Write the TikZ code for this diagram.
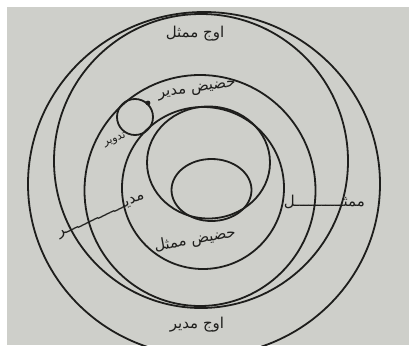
\documentclass[tikz,border=0pt]{standalone}
\usepackage{fontspec}
\newfontfamily\arabicfont[Script=Arabic]{DejaVu Sans}
\TeXXeTstate=1
\definecolor{ink}{RGB}{30,30,28}
\definecolor{paper}{RGB}{206,207,202}

\begin{document}
\begin{tikzpicture}[
  x=1pt, y=-1pt,
  font=\arabicfont\fontsize{15}{17}\selectfont,
  orb/.style={draw=ink, line width=1.8pt},
  lbl/.style={inner sep=1pt, text=ink}
]
% page and paper
\useasboundingbox (0,0) rectangle (409,345);
\fill[paper] (7,7) rectangle (409,345);

% centres of the orbs
\coordinate (outer) at (204,184);
\coordinate (mumath) at (201,161);
\coordinate (mudir) at (200,190.5);
\coordinate (mudirin) at (203,188);
\coordinate (inner) at (208.5,162.5);
\coordinate (core) at (211.5,190);
\coordinate (tadwir) at (135,117);

\draw[orb] (outer) ellipse [x radius=176, y radius=172];
\draw[orb] (mumath) circle [radius=147];
\draw[orb] (mudir) circle [radius=115.5];
\draw[orb] (mudirin) circle [radius=81];
\draw[orb] (inner) ellipse [x radius=61.5, y radius=56];
\draw[orb] (core) ellipse [x radius=40, y radius=31];
\draw[orb] (tadwir) circle [radius=18];
\fill[ink] (148,103) circle [radius=2.4];

% labels
\node[lbl] (awjmumath) at (195,34) {\beginR اوج ممثل\endR};
\node[lbl, rotate=8] (hadidmudir) at (197,90) {\beginR حضیض مدیر\endR};
\node[lbl, rotate=22, font=\arabicfont\fontsize{11}{13}\selectfont] (tadwirlbl) at (115,140) {\beginR تدویر\endR};
\node[lbl, rotate=10] (hadidmumath) at (195,240) {\beginR حضیض ممثل\endR};
\node[lbl] (awjmudir) at (197,325) {\beginR اوج مدیر\endR};
\node[lbl, anchor=base east] (mumathlbl) at (366,206) {\beginR ممثـــــــــــل\endR};
\node[lbl, anchor=base east, rotate=24] (mudirlbl) at (146,198) {\beginR مدیـــــــــــــــر\endR};
\end{tikzpicture}
\end{document}
